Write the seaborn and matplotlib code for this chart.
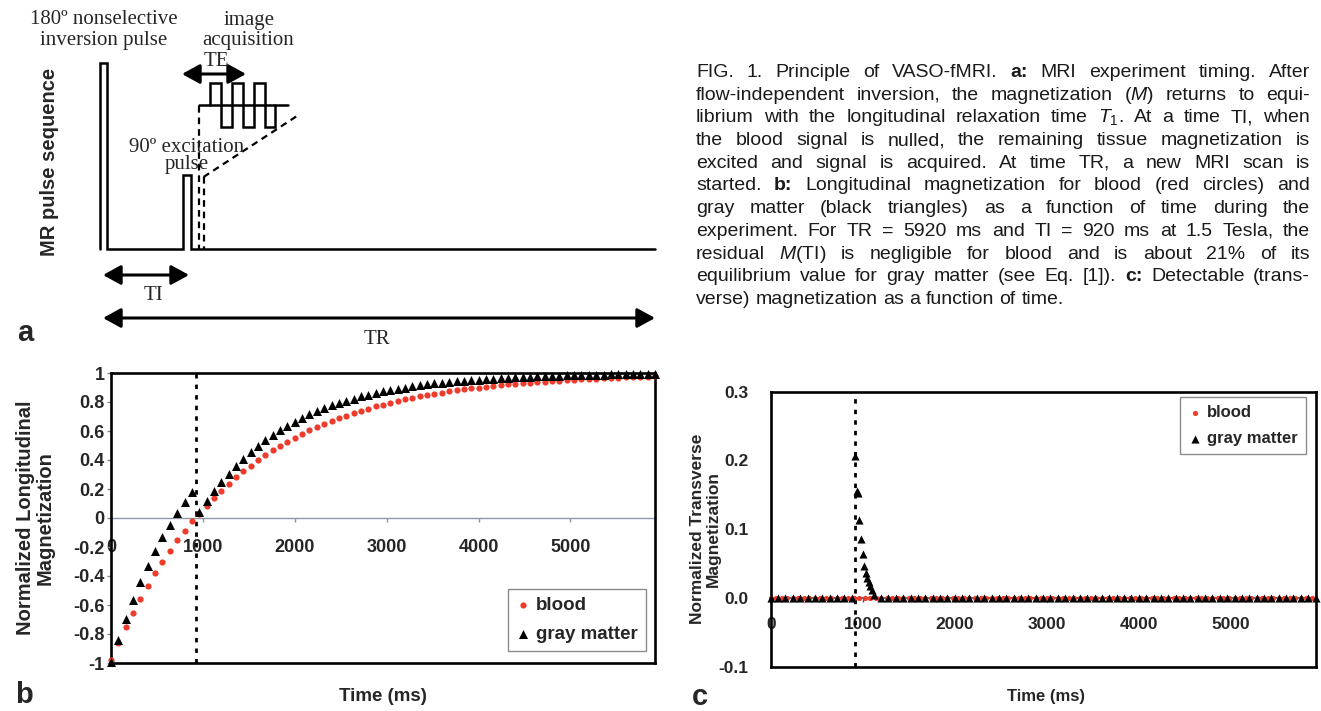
import numpy as np
import matplotlib
matplotlib.use("Agg")
import matplotlib.pyplot as plt
import seaborn as sns

# ------------------------------------------------------------------ data
TR_MS = 5920
TI_MS = 920

# panel b : longitudinal magnetization, points every 80 ms
t_b_before = np.arange(0, 881, 80)        # 0 .. 880 ms
t_b_after = np.arange(960, 5921, 80)      # 960 .. 5920 ms

blood_long_before = [-0.976, -0.861, -0.754, -0.652, -0.556, -0.466,
                     -0.381, -0.301, -0.225, -0.154, -0.087, -0.024]
blood_long_after = [0.029, 0.086, 0.139, 0.189, 0.236, 0.280, 0.322, 0.361, 0.398, 0.433,
                    0.466, 0.497, 0.526, 0.554, 0.579, 0.604, 0.627, 0.648, 0.669, 0.688,
                    0.706, 0.723, 0.739, 0.754, 0.769, 0.782, 0.795, 0.807, 0.818, 0.828,
                    0.838, 0.848, 0.857, 0.865, 0.873, 0.880, 0.887, 0.894, 0.900, 0.906,
                    0.911, 0.916, 0.921, 0.926, 0.930, 0.934, 0.938, 0.941, 0.945, 0.948,
                    0.951, 0.954, 0.957, 0.959, 0.961, 0.964, 0.966, 0.968, 0.970, 0.971,
                    0.973, 0.975, 0.976]
gray_long_before = [-0.994, -0.839, -0.696, -0.564, -0.443, -0.331,
                    -0.228, -0.132, -0.045, 0.036, 0.111, 0.180]
gray_long_after = [0.040, 0.114, 0.183, 0.246, 0.305, 0.359, 0.409, 0.455, 0.497, 0.536,
                   0.572, 0.605, 0.636, 0.664, 0.690, 0.714, 0.736, 0.757, 0.776, 0.793,
                   0.809, 0.824, 0.838, 0.850, 0.862, 0.873, 0.883, 0.892, 0.900, 0.908,
                   0.915, 0.922, 0.928, 0.933, 0.938, 0.943, 0.948, 0.952, 0.955, 0.959,
                   0.962, 0.965, 0.968, 0.970, 0.973, 0.975, 0.977, 0.978, 0.980, 0.982,
                   0.983, 0.984, 0.986, 0.987, 0.988, 0.989, 0.990, 0.990, 0.991, 0.992,
                   0.992, 0.993, 0.994]

# panel c : transverse magnetization
t_c_gray_before = np.arange(0, 881, 80)
gray_trans_before = [0.0, 0.0, 0.0, 0.0, 0.0, 0.0, 0.0, 0.0, 0.0, 0.0, 0.0, 0.0]
t_c_gray_decay = [920, 938, 944, 960, 980, 1000, 1018, 1036, 1050, 1065, 1080, 1098, 1120]
gray_trans_decay = [0.206, 0.156, 0.152, 0.114, 0.086, 0.064, 0.047, 0.036,
                    0.029, 0.023, 0.017, 0.011, 0.005]
t_c_gray_after = np.arange(1200, 5921, 80)
gray_trans_after = [0.0, 0.0, 0.0, 0.0, 0.0, 0.0, 0.0, 0.0, 0.0, 0.0,
                    0.0, 0.0, 0.0, 0.0, 0.0, 0.0, 0.0, 0.0, 0.0, 0.0,
                    0.0, 0.0, 0.0, 0.0, 0.0, 0.0, 0.0, 0.0, 0.0, 0.0,
                    0.0, 0.0, 0.0, 0.0, 0.0, 0.0, 0.0, 0.0, 0.0, 0.0,
                    0.0, 0.0, 0.0, 0.0, 0.0, 0.0, 0.0, 0.0, 0.0, 0.0,
                    0.0, 0.0, 0.0, 0.0, 0.0, 0.0, 0.0, 0.0, 0.0, 0.0]
t_c_blood = np.arange(0, 5881, 60)
blood_trans = [0.0, 0.0, 0.0, 0.0, 0.0, 0.0, 0.0, 0.0, 0.0, 0.0,
               0.0, 0.0, 0.0, 0.0, 0.0, 0.0, 0.0, 0.0, 0.0, 0.0,
               0.0, 0.0, 0.0, 0.0, 0.0, 0.0, 0.0, 0.0, 0.0, 0.0,
               0.0, 0.0, 0.0, 0.0, 0.0, 0.0, 0.0, 0.0, 0.0, 0.0,
               0.0, 0.0, 0.0, 0.0, 0.0, 0.0, 0.0, 0.0, 0.0, 0.0,
               0.0, 0.0, 0.0, 0.0, 0.0, 0.0, 0.0, 0.0, 0.0, 0.0,
               0.0, 0.0, 0.0, 0.0, 0.0, 0.0, 0.0, 0.0, 0.0, 0.0,
               0.0, 0.0, 0.0, 0.0, 0.0, 0.0, 0.0, 0.0, 0.0, 0.0,
               0.0, 0.0, 0.0, 0.0, 0.0, 0.0, 0.0, 0.0, 0.0, 0.0,
               0.0, 0.0, 0.0, 0.0, 0.0, 0.0, 0.0, 0.0, 0.0]

# tick labels
x_ticks = [0, 1000, 2000, 3000, 4000, 5000]
x_ticklabels = ["0", "1000", "2000", "3000", "4000", "5000"]
b_yticks = [-1, -0.8, -0.6, -0.4, -0.2, 0, 0.2, 0.4, 0.6, 0.8, 1]
b_yticklabels = ["-1", "-0.8", "-0.6", "-0.4", "-0.2", "0", "0.2", "0.4", "0.6", "0.8", "1"]
c_yticks = [-0.1, 0.0, 0.1, 0.2, 0.3]
c_yticklabels = ["-0.1", "0.0", "0.1", "0.2", "0.3"]
series_labels = ["blood", "gray matter"]

caption_lines = [
    "FIG. 1. Principle of VASO-fMRI. **a:** MRI experiment timing. After",
    "flow-independent inversion, the magnetization ($M$) returns to equi-",
    "librium with the longitudinal relaxation time $T_1$. At a time TI, when",
    "the blood signal is nulled, the remaining tissue magnetization is",
    "excited and signal is acquired. At time TR, a new MRI scan is",
    "started. **b:** Longitudinal magnetization for blood (red circles) and",
    "gray matter (black triangles) as a function of time during the",
    "experiment. For TR = 5920 ms and TI = 920 ms at 1.5 Tesla, the",
    "residual $M$(TI) is negligible for blood and is about 21% of its",
    "equilibrium value for gray matter (see Eq. [1]). **c:** Detectable (trans-",
    "verse) magnetization as a function of time.",
]

# ------------------------------------------------------------------ style
sns.set_style("white")
plt.rcParams["font.family"] = ["Liberation Sans", "DejaVu Sans"]
plt.rcParams["axes.unicode_minus"] = False
plt.rcParams["mathtext.fontset"] = "custom"
plt.rcParams["mathtext.rm"] = "Liberation Sans"
plt.rcParams["mathtext.it"] = "Liberation Sans:italic"
plt.rcParams["mathtext.bf"] = "Liberation Sans:bold"

RED = "#ee3b2c"
ZERO_GREY = "#8c96a8"

W, H = 1321, 711
fig = plt.figure(figsize=(W / 100, H / 100), dpi=100)
fig.patch.set_facecolor("white")

# full-figure pixel axes for the schematic (panel a), panel letters and caption
ax_a = fig.add_axes([0, 0, 1, 1])
ax_a.set_xlim(0, W)
ax_a.set_ylim(H, 0)
ax_a.axis("off")

# ------------------------------------------------------------------ panel a
SERIF = "Liberation Serif"
seq_x = [100, 100, 107, 107, 183, 183, 191, 191, 655]
seq_y = [249, 63, 63, 249, 249, 175, 175, 249, 249]
ax_a.plot(seq_x, seq_y, color="k", lw=1.8, solid_joinstyle="miter")

wave_x = [199, 288]
wave_y = [105, 105]
ax_a.plot(wave_x, wave_y, color="k", lw=1.8)
sq_x = [210, 210, 221, 221, 232, 232, 243, 243, 254, 254, 265, 265, 275, 275]
sq_y = [105, 83, 83, 127, 127, 83, 83, 127, 127, 83, 83, 127, 127, 105]
ax_a.plot(sq_x, sq_y, color="k", lw=1.8, solid_joinstyle="miter")

dash = (0, (3, 2.2))
ax_a.plot([199, 199], [106, 249], color="k", lw=1.6, ls=dash)
ax_a.plot([203.5, 203.5], [177, 249], color="k", lw=1.6, ls=dash)
ax_a.plot([203.5, 297], [177, 116], color="k", lw=1.6, ls=dash)


def double_arrow(x0, x1, y):
    ax_a.annotate("", xy=(x1, y), xytext=(x0, y),
                  arrowprops=dict(arrowstyle="<|-|>,head_length=0.6,head_width=0.33",
                                  color="k", lw=2.2, shrinkA=0, shrinkB=0,
                                  mutation_scale=18))


double_arrow(182, 246, 74)
double_arrow(103, 189, 275)
double_arrow(103, 655, 318)

ax_a.text(104, 20, "180º nonselective", family=SERIF, fontsize=15, ha="center", va="center")
ax_a.text(104, 40, "inversion pulse", family=SERIF, fontsize=15, ha="center", va="center")
ax_a.text(249, 20, "image", family=SERIF, fontsize=15, ha="center", va="center")
ax_a.text(248, 40, "acquisition", family=SERIF, fontsize=15, ha="center", va="center")
ax_a.text(216, 61, "TE", family=SERIF, fontsize=15, ha="center", va="center")
ax_a.text(187, 147, "90º excitation", family=SERIF, fontsize=15, ha="center", va="center")
ax_a.text(187, 165, "pulse", family=SERIF, fontsize=15, ha="center", va="center")
ax_a.text(153, 296, "TI", family=SERIF, fontsize=15, ha="center", va="center")
ax_a.text(377, 340, "TR", family=SERIF, fontsize=15, ha="center", va="center")
ax_a.text(50, 162, "MR pulse sequence", fontsize=14.5, fontweight="bold",
          rotation=90, ha="center", va="center")

ax_a.text(25, 341, "a", fontsize=21, fontweight="bold", ha="center", va="baseline")
ax_a.text(24, 703, "b", fontsize=21, fontweight="bold", ha="center", va="baseline")
ax_a.text(700, 705, "c", fontsize=21, fontweight="bold", ha="center", va="baseline")

# ------------------------------------------------------------------ panel b
ax_b = fig.add_axes([111 / W, (H - 663) / H, 544 / W, 290 / H])
ax_b.axvline(TI_MS, color="k", lw=2.0, ls=(0, (1.6, 2.2)), zorder=2)

t_b = np.concatenate([t_b_before, t_b_after])
sns.scatterplot(x=t_b, y=blood_long_before + blood_long_after, ax=ax_b,
                color=RED, marker="o", s=20, linewidth=0, label=series_labels[0],
                zorder=3, clip_on=False)
sns.scatterplot(x=t_b, y=gray_long_before + gray_long_after, ax=ax_b,
                color="black", marker="^", s=42, linewidth=0, label=series_labels[1],
                zorder=4, clip_on=False)

ax_b.set_xlim(0, TR_MS)
ax_b.set_ylim(-1, 1)
ax_b.set_yticks(b_yticks)
ax_b.set_yticklabels(b_yticklabels, fontsize=13, fontweight="bold")
ax_b.tick_params(axis="y", left=True, direction="out", length=3, width=1,
                 color="#888888", pad=1.5)
ax_b.tick_params(axis="x", bottom=False, labelbottom=False)
for sp in ax_b.spines.values():
    sp.set_linewidth(1.9)
    sp.set_color("black")

sec_b = ax_b.secondary_xaxis(0.5)
sec_b.set_alignment("bottom")
sec_b.set_xticks(x_ticks)
sec_b.set_xticklabels(x_ticklabels, fontsize=13, fontweight="bold")
sec_b.tick_params(axis="x", direction="out", length=3, width=1, color=ZERO_GREY, pad=12)
for sp in ("bottom", "top"):
    sec_b.spines[sp].set_color(ZERO_GREY)
    sec_b.spines[sp].set_linewidth(1.0)

ax_b.set_ylabel("Normalized Longitudinal\nMagnetization", fontsize=14.5,
                fontweight="bold", linespacing=1.05)
ax_b.yaxis.set_label_coords(-0.103, 0.5)
ax_b.set_xlabel("Time (ms)", fontsize=13.5, fontweight="bold")
ax_b.xaxis.set_label_coords(0.5, -0.086)

leg_b = ax_b.legend(loc="lower right", bbox_to_anchor=(0.983, 0.041), borderaxespad=0,
                    frameon=True, fancybox=False, framealpha=1, edgecolor="#8a8a8a",
                    prop=dict(weight="bold", size=13.5), handletextpad=0.3,
                    handlelength=0.7, borderpad=0.45, labelspacing=0.6)
leg_b.get_frame().set_linewidth(1.0)

# ------------------------------------------------------------------ panel c
ax_c = fig.add_axes([770.7 / W, (H - 666.7) / H, 544.8 / W, 275 / H])
ax_c.axvline(TI_MS, color="k", lw=2.0, ls=(0, (1.6, 2.2)), zorder=2)

t_c_gray = np.concatenate([t_c_gray_before, t_c_gray_decay, t_c_gray_after])
sns.scatterplot(x=t_c_blood, y=blood_trans, ax=ax_c, color=RED, marker="o", s=14,
                linewidth=0, label=series_labels[0], zorder=3, clip_on=False)
sns.scatterplot(x=t_c_gray, y=gray_trans_before + gray_trans_decay + gray_trans_after,
                ax=ax_c, color="black", marker="^", s=34, linewidth=0,
                label=series_labels[1], zorder=4, clip_on=False)

ax_c.set_xlim(0, TR_MS)
ax_c.set_ylim(-0.1, 0.3)
ax_c.set_yticks(c_yticks)
ax_c.set_yticklabels(c_yticklabels, fontsize=12.5, fontweight="bold")
ax_c.tick_params(axis="y", left=True, length=0, pad=16)
ax_c.tick_params(axis="x", bottom=False, labelbottom=False)
for sp in ax_c.spines.values():
    sp.set_linewidth(1.9)
    sp.set_color("black")

sec_c = ax_c.secondary_xaxis(0.25)
sec_c.set_alignment("bottom")
sec_c.set_xticks(x_ticks)
sec_c.set_xticklabels(x_ticklabels, fontsize=12.5, fontweight="bold")
sec_c.tick_params(axis="x", direction="out", length=3, width=1, color="#555555", pad=10.5)
for sp in ("bottom", "top"):
    sec_c.spines[sp].set_color("#444444")
    sec_c.spines[sp].set_linewidth(1.2)

ax_c.set_ylabel("Normalized Transverse\nMagnetization", fontsize=12.5,
                fontweight="bold", linespacing=1.05)
ax_c.yaxis.set_label_coords(-0.092, 0.5)
ax_c.set_xlabel("Time (ms)", fontsize=12, fontweight="bold")
ax_c.xaxis.set_label_coords(0.505, -0.081)

leg_c = ax_c.legend(loc="upper right", bbox_to_anchor=(0.9826, 0.981), borderaxespad=0,
                    frameon=True, fancybox=False, framealpha=1, edgecolor="#8a8a8a",
                    prop=dict(weight="bold", size=12), handletextpad=0.3,
                    handlelength=0.8, borderpad=0.5, labelspacing=0.65)
leg_c.get_frame().set_linewidth(1.0)

# ------------------------------------------------------------------ caption (justified)
CAP_X0, CAP_X1 = 696, 1310
CAP_Y0, CAP_DY = 77, 22.7
CAP_SIZE = 14
renderer = fig.canvas.get_renderer()
probe = ax_a.text(0, 0, "a a", fontsize=CAP_SIZE)
probe2 = ax_a.text(0, 0, "aa", fontsize=CAP_SIZE)
space_w = probe.get_window_extent(renderer).width - probe2.get_window_extent(renderer).width
probe.remove()
probe2.remove()
for i, line in enumerate(caption_lines):
    y = CAP_Y0 + i * CAP_DY
    texts = []
    for word in line.split(" "):
        weight = "normal"
        if word.startswith("**"):
            word = word.strip("*")
            weight = "bold"
        t = ax_a.text(0, y, word, fontsize=CAP_SIZE, fontweight=weight,
                      color="#1a1a1a", ha="left", va="baseline")
        texts.append(t)
    widths = [t.get_window_extent(renderer).width for t in texts]
    if i < len(caption_lines) - 1 and len(texts) > 1:
        gap = (CAP_X1 - CAP_X0 - sum(widths)) / (len(texts) - 1)
    else:
        gap = space_w
    x = CAP_X0
    for t, w in zip(texts, widths):
        t.set_x(x)
        x += w + gap

fig.savefig("out.png", dpi=100, facecolor="white")
